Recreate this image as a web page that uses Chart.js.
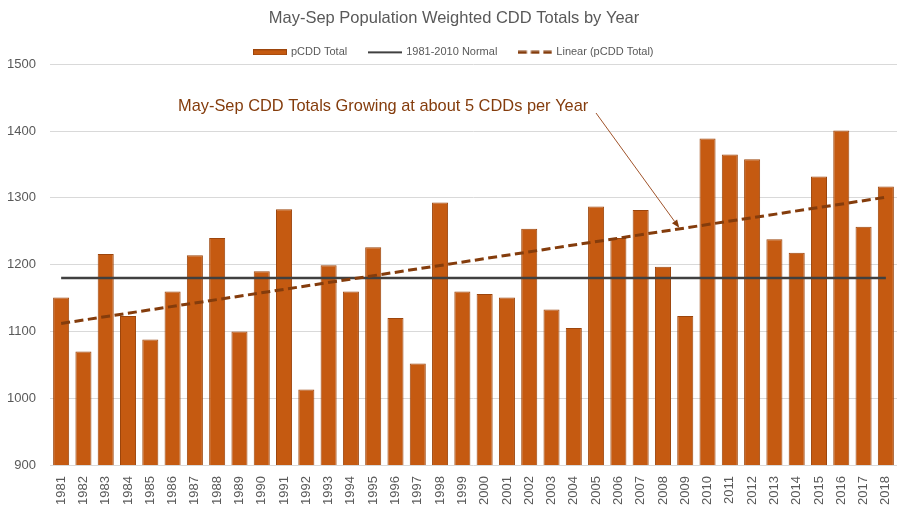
<!DOCTYPE html>
<html>
<head>
<meta charset="utf-8">
<script src="https://cdn.jsdelivr.net/npm/chart.js@4.4.1/dist/chart.umd.min.js"></script>
<style>
  html, body { margin: 0; padding: 0; background: #ffffff; }
  #wrap { width: 908px; height: 519px; }
</style>
</head>
<body>
<div id="wrap"><canvas id="c" width="908" height="519"></canvas></div>
<script>
const years = ['1981','1982','1983','1984','1985','1986','1987','1988','1989','1990',
  '1991','1992','1993','1994','1995','1996','1997','1998','1999','2000',
  '2001','2002','2003','2004','2005','2006','2007','2008','2009','2010',
  '2011','2012','2013','2014','2015','2016','2017','2018'];
const pcddTotal = [1151,1070,1216,1123,1088,1160,1214,1240,1100,1190,
  1283,1013,1199,1160,1226,1120,1052,1293,1160,1156,
  1151,1254,1133,1105,1287,1240,1282,1197,1123,1389,
  1365,1358,1238,1218,1332,1401,1257,1317];
const normalValue = 1180;           // 1981-2010 Normal
const trendStart = 1112;            // Linear trend value at 1981
const trendEnd = 1301;              // Linear trend value at 2018
const yTicks = [900, 1000, 1100, 1200, 1300, 1400, 1500];
const seriesNames = ['pCDD Total', '1981-2010 Normal', 'Linear (pCDD Total)'];
const chartTitle = 'May-Sep Population Weighted CDD Totals by Year';
const noteText = 'May-Sep CDD Totals Growing at about 5 CDDs per Year';
const noteYearIndex = 28; // arrow points at the trend line near 2009

const normalData = years.map(() => normalValue);
const trendData = years.map((_, i) => i === 0 ? trendStart : (i === years.length - 1 ? trendEnd : null));

const FONT = "'Liberation Sans', Arial, sans-serif";
Chart.defaults.font.family = FONT;
Chart.defaults.color = '#595959';

// legend icons
function makeIcon(kind) {
  const c = document.createElement('canvas');
  c.width = 34; c.height = kind === 'rect' ? 6 : 4;
  const g = c.getContext('2d');
  if (kind === 'rect') {
    g.fillStyle = '#C55A11';
    g.fillRect(0, 0, 34, 6);
    g.strokeStyle = '#9C450C';
    g.lineWidth = 1;
    g.strokeRect(0.5, 0.5, 33, 5);
  } else if (kind === 'solid') {
    g.fillStyle = '#404040';
    g.fillRect(0, 1, 34, 2);
  } else {
    g.fillStyle = '#843C0C';
    [0, 12.5, 25].forEach(x => g.fillRect(x, 0.5, 8.5, 3));
  }
  return c;
}
const legendIcons = [makeIcon('rect'), makeIcon('solid'), makeIcon('dash')];

const notePlugin = {
  id: 'note',
  afterDatasetsDraw(chart) {
    const ctx = chart.ctx;
    const xs = chart.scales.x, ys = chart.scales.y;
    ctx.save();
    ctx.font = "16.4px " + FONT;
    ctx.fillStyle = '#843C0C';
    ctx.textBaseline = 'alphabetic';
    ctx.textAlign = 'left';
    ctx.fillText(noteText, 178, 111);
    // arrow
    const x0 = xs.getPixelForValue(0), x1 = xs.getPixelForValue(years.length - 1);
    const y0 = ys.getPixelForValue(trendStart), y1 = ys.getPixelForValue(trendEnd);
    const tx = xs.getPixelForValue(noteYearIndex) - 6;
    const ty = y0 + (y1 - y0) * (tx - x0) / (x1 - x0) - 1;
    const sx = 596, sy = 113;
    const ang = Math.atan2(ty - sy, tx - sx);
    const hl = 8, hw = 3.2;
    const bx = tx - hl * Math.cos(ang), by = ty - hl * Math.sin(ang);
    ctx.strokeStyle = '#A0532A';
    ctx.lineWidth = 1;
    ctx.beginPath();
    ctx.moveTo(sx, sy);
    ctx.lineTo(bx, by);
    ctx.stroke();
    ctx.fillStyle = '#843C0C';
    ctx.beginPath();
    ctx.moveTo(tx, ty);
    ctx.lineTo(bx + hw * Math.sin(ang), by - hw * Math.cos(ang));
    ctx.lineTo(bx - hw * Math.sin(ang), by + hw * Math.cos(ang));
    ctx.closePath();
    ctx.fill();
    ctx.restore();
  }
};

new Chart(document.getElementById('c'), {
  data: {
    labels: years,
    datasets: [
      {
        type: 'bar',
        label: seriesNames[0],
        data: pcddTotal,
        backgroundColor: '#C55A11',
        borderColor: '#9C450C',
        borderWidth: 1,
        categoryPercentage: 1.0,
        barPercentage: 0.72,
        order: 3
      },
      {
        type: 'line',
        label: seriesNames[1],
        data: normalData,
        borderColor: '#404040',
        backgroundColor: '#404040',
        borderWidth: 2.5,
        pointRadius: 0,
        fill: false,
        order: 2
      },
      {
        type: 'line',
        label: seriesNames[2],
        data: trendData,
        spanGaps: true,
        borderColor: '#843C0C',
        backgroundColor: '#843C0C',
        borderWidth: 3,
        borderDash: [9, 4.5],
        pointRadius: 0,
        fill: false,
        order: 1
      }
    ]
  },
  options: {
    responsive: false,
    animation: false,
    layout: { padding: { top: 0, left: 0, right: 0, bottom: 0 } },
    plugins: {
      title: {
        display: true,
        text: chartTitle,
        color: '#595959',
        font: { size: 16.5, weight: 'normal', lineHeight: 0.75 },
        padding: { top: 12, bottom: 0 }
      },
      legend: {
        display: true,
        position: 'top',
        maxHeight: 40,
        labels: {
          color: '#595959',
          font: { size: 11 },
          usePointStyle: true,
          pointStyleWidth: 31,
          boxHeight: 6,
          padding: 22.5,
          sort: (a, b) => a.datasetIndex - b.datasetIndex,
          generateLabels(chart) {
            const items = Chart.defaults.plugins.legend.labels.generateLabels(chart);
            return items.map(it => {
              it.pointStyle = legendIcons[it.datasetIndex];
              it.lineWidth = 0;
              it.lineDash = [];
              return it;
            });
          }
        }
      },
      tooltip: { enabled: false }
    },
    scales: {
      x: {
        type: 'category',
        offset: true,
        grid: { display: false, drawTicks: false },
        border: { display: false },
        ticks: {
          color: '#595959',
          font: { size: 13 },
          maxRotation: 90,
          minRotation: 90,
          autoSkip: false,
          padding: 11
        },
        afterFit(scale) {
          scale.height = 54;
          scale.paddingLeft = 0;
          scale.paddingRight = 0;
        }
      },
      y: {
        type: 'linear',
        position: 'left',
        min: yTicks[0],
        max: yTicks[yTicks.length - 1],
        grid: { color: '#D9D9D9', lineWidth: 1, drawTicks: false },
        border: { display: false },
        afterBuildTicks(scale) { scale.ticks = yTicks.map(v => ({ value: v })); },
        ticks: {
          color: '#595959',
          font: { size: 13 },
          padding: 14,
          callback: (v) => String(v)
        },
        afterFit(scale) {
          scale.width = 50;
          scale.paddingTop = 0;
          scale.paddingBottom = 0;
        }
      },
      yRight: {
        type: 'linear',
        position: 'right',
        min: yTicks[0],
        max: yTicks[yTicks.length - 1],
        grid: { display: false, drawTicks: false },
        border: { display: false },
        ticks: { display: false },
        afterFit(scale) {
          scale.width = 11;
          scale.paddingTop = 0;
          scale.paddingBottom = 0;
        }
      }
    }
  },
  plugins: [notePlugin]
});
</script>
</body>
</html>
